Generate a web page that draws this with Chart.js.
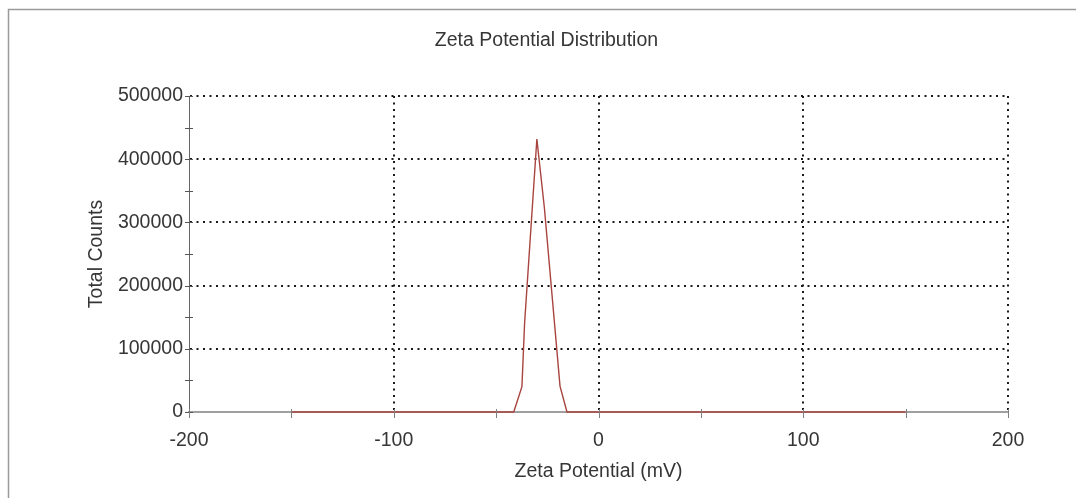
<!DOCTYPE html>
<html>
<head>
<meta charset="utf-8">
<script src="https://cdn.jsdelivr.net/npm/chart.js@4"></script>
<style>
  html, body { margin: 0; padding: 0; background: #ffffff; }
  canvas { display: block; }
</style>
</head>
<body>
<canvas id="c" width="1076" height="498"></canvas>
<script>
// ---- data ----
const zetaPotentialMv = [-150, -41.4, -37.4, -36.1, -30.1, -26.4, -18.8, -15.4, 150];
const totalCounts     = [0,    0,     40000, 140000, 432000, 322000, 41000, 0,    0];
const xTickValues = [-200, -100, 0, 100, 200];
const xMinorTickValues = [-200, -150, -100, -50, 0, 50, 100, 150, 200];
const yTickValues = [0, 100000, 200000, 300000, 400000, 500000];
const yMinorTickValues = [0, 50000, 100000, 150000, 200000, 250000, 300000, 350000, 400000, 450000, 500000];
const chartTitle = 'Zeta Potential Distribution';
const xTitle = 'Zeta Potential (mV)';
const yTitle = 'Total Counts';

const FONT = "'Liberation Sans', Arial, sans-serif";
const TEXT = '#363636';

const framePlugin = {
  id: 'frame',
  beforeDraw(chart) {
    const ctx = chart.ctx;
    ctx.save();
    ctx.strokeStyle = '#9a9a9a';
    ctx.lineWidth = 1.5;
    ctx.beginPath();
    ctx.moveTo(8.5, 498);
    ctx.lineTo(8.5, 9.5);
    ctx.lineTo(1076, 9.5);
    ctx.stroke();
    ctx.restore();
  }
};

const axisTicksPlugin = {
  id: 'axisTicks',
  afterDraw(chart) {
    const ctx = chart.ctx;
    const xs = chart.scales.x, ys = chart.scales.y;
    ctx.save();
    // y-axis crossing ticks
    ctx.strokeStyle = '#555';
    ctx.lineWidth = 1;
    const ax = ys.right;
    yMinorTickValues.forEach(v => {
      const y = Math.round(ys.getPixelForValue(v)) + 0.5;
      ctx.beginPath();
      ctx.moveTo(ax - 4, y);
      ctx.lineTo(ax + 4, y);
      ctx.stroke();
    });
    // x-axis ticks
    ctx.strokeStyle = '#808080';
    const ay = xs.top;
    xMinorTickValues.forEach(v => {
      const x = Math.round(xs.getPixelForValue(v)) + 0.5;
      ctx.beginPath();
      ctx.moveTo(x, ay - 3);
      ctx.lineTo(x, ay + 6);
      ctx.stroke();
    });
    ctx.restore();
  }
};

new Chart(document.getElementById('c'), {
  type: 'line',
  data: {
    datasets: [{
      data: zetaPotentialMv.map((x, i) => ({ x: x, y: totalCounts[i] })),
      borderColor: '#a8443f',
      borderWidth: 1.4,
      pointRadius: 0,
      tension: 0,
      fill: false,
      clip: false
    }]
  },
  options: {
    responsive: false,
    animation: false,
    layout: { padding: { left: 85, right: 68, top: 0, bottom: 15 } },
    plugins: {
      legend: { display: false },
      tooltip: { enabled: false },
      title: {
        display: true,
        text: chartTitle,
        color: TEXT,
        font: { family: FONT, size: 19.5, weight: 'normal' },
        padding: { top: 28.8, bottom: 43.8 }
      }
    },
    scales: {
      x: {
        type: 'linear',
        min: -200,
        max: 200,
        afterBuildTicks(scale) { scale.ticks = xTickValues.map(v => ({ value: v })); },
        afterFit(scale) { scale.height = 71; },
        ticks: {
          color: TEXT,
          font: { family: FONT, size: 19.5 },
          padding: 17,
          maxRotation: 0
        },
        grid: {
          drawTicks: false,
          color: ctx => (ctx.tick && ctx.tick.value === -200) ? 'rgba(0,0,0,0)' : '#1a1a1a',
          lineWidth: 2
        },
        border: { color: '#a0a0a0', width: 2, dash: [2, 4.5] },
        title: {
          display: true,
          text: xTitle,
          color: TEXT,
          font: { family: FONT, size: 19.5 },
          padding: { top: 0, bottom: 0 }
        }
      },
      y: {
        min: 0,
        max: 500000,
        afterBuildTicks(scale) { scale.ticks = yTickValues.map(v => ({ value: v })); },
        afterFit(scale) { scale.width = 104; },
        ticks: {
          color: TEXT,
          font: { family: FONT, size: 19.5 },
          padding: 6,
          callback: v => String(v)
        },
        grid: {
          drawTicks: false,
          color: ctx => (ctx.tick && ctx.tick.value === 0) ? 'rgba(0,0,0,0)' : '#1a1a1a',
          lineWidth: 2
        },
        border: { color: '#666', width: 1, dash: [2, 4.5] },
        title: {
          display: true,
          text: yTitle,
          color: TEXT,
          font: { family: FONT, size: 19.5 },
          padding: { top: 0, bottom: 0 }
        }
      }
    }
  },
  plugins: [framePlugin, axisTicksPlugin]
});
</script>
</body>
</html>
